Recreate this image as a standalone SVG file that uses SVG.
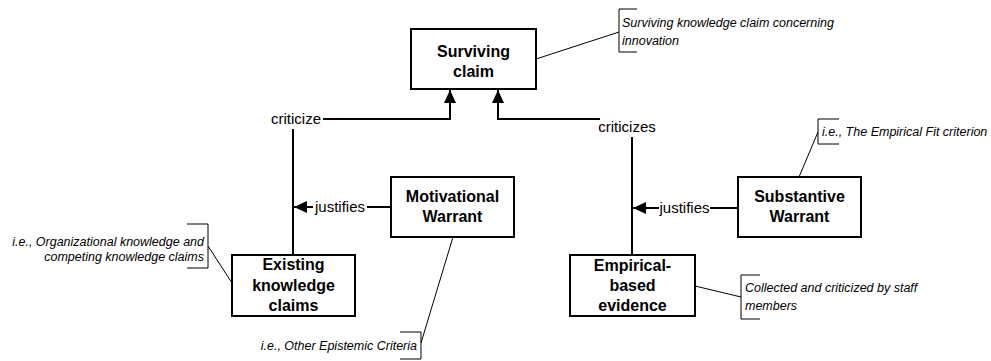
<svg xmlns="http://www.w3.org/2000/svg" width="991" height="361" viewBox="0 0 991 361">
  <defs>
    <marker id="tri" markerUnits="userSpaceOnUse" markerWidth="14" markerHeight="14" viewBox="0 0 14 14" refX="13" refY="7" orient="auto">
      <path d="M0,1 L13,7 L0,13 Z" fill="#000"/>
    </marker>
    <style>
      .box { fill: #fff; stroke: #000; stroke-width: 2; }
      .node { font-family: "Liberation Sans", Arial, sans-serif; font-weight: bold; font-size: 16px; text-anchor: middle; fill: #000; }
      .edge { fill: none; stroke: #000; stroke-width: 2; }
      .lbl { font-family: "Liberation Sans", Arial, sans-serif; font-size: 15px; fill: #000; }
      .note { font-family: "Liberation Sans", Arial, sans-serif; font-style: italic; font-size: 12.5px; fill: #000; }
      .lead { fill: none; stroke: #000; stroke-width: 1; }
    </style>
  </defs>
  <rect width="991" height="361" fill="#fff"/>

  <g id="connectors">
    <!-- criticize -->
    <path class="edge" d="M323,119 H450 V90" marker-end="url(#tri)"/>
    <path class="edge" d="M293,129 V255"/>
    <text class="lbl" x="296" y="124" text-anchor="middle">criticize</text>
    <!-- criticizes -->
    <path class="edge" d="M600,119 H498 V90" marker-end="url(#tri)"/>
    <path class="edge" d="M632,137 V255"/>
    <text class="lbl" x="627" y="132" text-anchor="middle">criticizes</text>
    <!-- justifies (motivational) -->
    <path class="edge" d="M391,207 H367"/>
    <path class="edge" d="M313,207 H294" marker-end="url(#tri)"/>
    <text class="lbl" x="340" y="212" text-anchor="middle">justifies</text>
    <!-- justifies (substantive) -->
    <path class="edge" d="M738,208 H710"/>
    <path class="edge" d="M659,208 H633" marker-end="url(#tri)"/>
    <text class="lbl" x="684.5" y="213" text-anchor="middle">justifies</text>
  </g>

  <g id="surviving-claim">
    <rect class="box" x="411" y="29" width="125" height="60"/>
    <text class="node" x="473.5" y="57">Surviving</text>
    <text class="node" x="473.5" y="77">claim</text>
  </g>

  <g id="motivational-warrant">
    <rect class="box" x="391" y="177" width="123" height="60"/>
    <text class="node" x="452.5" y="202">Motivational</text>
    <text class="node" x="452.5" y="222">Warrant</text>
  </g>

  <g id="substantive-warrant">
    <rect class="box" x="738" y="177" width="123" height="60"/>
    <text class="node" x="799.5" y="202">Substantive</text>
    <text class="node" x="799.5" y="222">Warrant</text>
  </g>

  <g id="existing-knowledge-claims">
    <rect class="box" x="232" y="255" width="123" height="61"/>
    <text class="node" x="293.5" y="270">Existing</text>
    <text class="node" x="293.5" y="291">knowledge</text>
    <text class="node" x="293.5" y="311">claims</text>
  </g>

  <g id="empirical-based-evidence">
    <rect class="box" x="570" y="255" width="125" height="61"/>
    <text class="node" x="632.5" y="271">Empirical-</text>
    <text class="node" x="632.5" y="291">based</text>
    <text class="node" x="632.5" y="311">evidence</text>
  </g>

  <!-- annotations -->
  <g id="note-surviving">
    <path class="lead" d="M536,59 L619,32"/>
    <path class="lead" d="M637,9 H619 V52 H637"/>
    <text class="note" x="622" y="27">Surviving knowledge claim concerning</text>
    <text class="note" x="622" y="45">innovation</text>
  </g>

  <g id="note-substantive">
    <path class="lead" d="M799,177 L818,132"/>
    <path class="lead" d="M839,119 H818 V144 H839"/>
    <text class="note" x="822" y="136">i.e., The Empirical Fit criterion</text>
  </g>

  <g id="note-existing">
    <path class="lead" d="M208,246 L232,283"/>
    <path class="lead" d="M187,224 H208 V268 H187"/>
    <text class="note" x="204" y="246" text-anchor="end">i.e., Organizational knowledge and</text>
    <text class="note" x="204" y="261" text-anchor="end">competing knowledge claims</text>
  </g>

  <g id="note-motivational">
    <path class="lead" d="M421,343 L453,237"/>
    <path class="lead" d="M400,332 H421 V359 H400"/>
    <text class="note" x="417" y="350" text-anchor="end">i.e., Other Epistemic Criteria</text>
  </g>

  <g id="note-empirical">
    <path class="lead" d="M695,286 L741,297"/>
    <path class="lead" d="M760,275 H741 V319 H760"/>
    <text class="note" x="745" y="292">Collected and criticized by staff</text>
    <text class="note" x="745" y="310">members</text>
  </g>
</svg>
